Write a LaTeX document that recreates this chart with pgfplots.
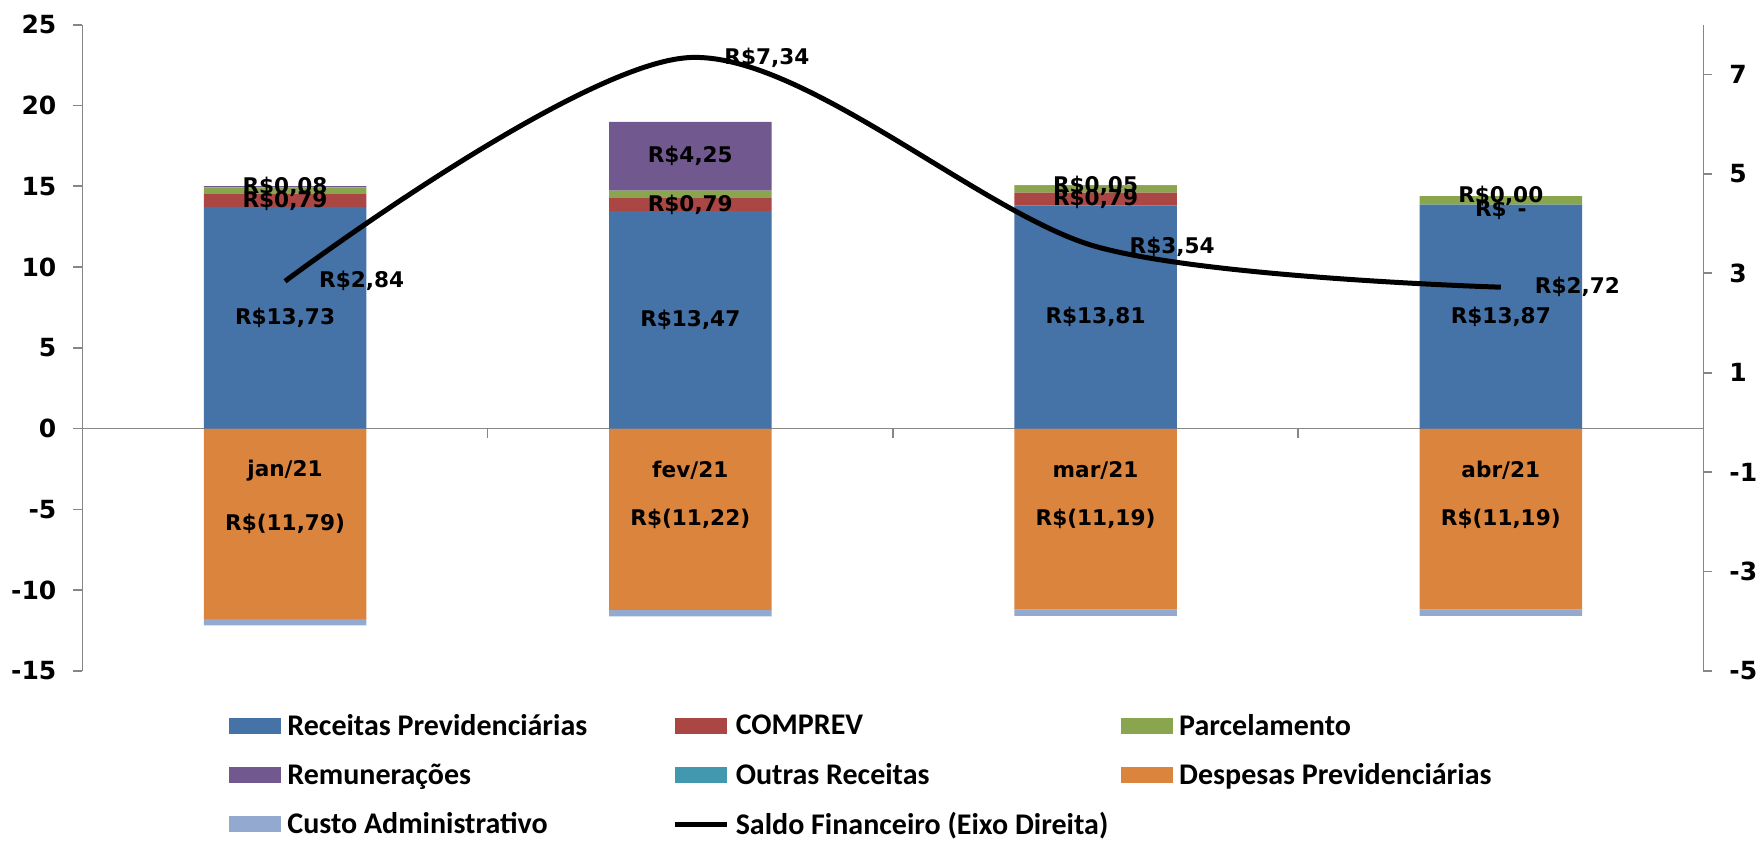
\documentclass[border=0pt]{standalone}
\usepackage{fontspec}
\setmainfont{DejaVu Sans}
\newfontfamily\carlito{Carlito}
\usepackage{pgfplots}
\usepackage{pgfplotstable}
\pgfplotsset{compat=1.18}
\definecolor{cRec}{HTML}{4572A7}
\definecolor{cComp}{HTML}{AA4643}
\definecolor{cParc}{HTML}{89A54E}
\definecolor{cRem}{HTML}{71588F}
\definecolor{cOut}{HTML}{4198AF}
\definecolor{cDesp}{HTML}{DB843D}
\definecolor{cCusto}{HTML}{93A9CF}
\definecolor{axgray}{HTML}{868686}
\pgfplotsset{
  sqlegend/.style={legend image code/.code={\fill[##1] (0pt,-4pt) rectangle (26pt,4pt);}},
  linelegend/.style={legend image code/.code={\draw[##1] (0pt,0pt) -- (26pt,0pt);}},
}
\pgfplotstableread{
x rec comp parc rem out desp custo
0 13.73 0.79 0.41 0.08 0 -11.79 -0.39
1 13.47 0.79 0.47 4.25 0 -11.22 -0.40
2 13.81 0.79 0.41 0.05 0 -11.19 -0.40
3 13.87 0.00 0.52 0.00 0 -11.19 -0.40
}\bars
\pgfplotstableread{
x y label
0 2.84 R\$2,84
1 7.34 R\$7,34
2 3.54 R\$3,54
3 2.72 R\$2,72
}\saldo
\pgfplotstableread{
x y label
0 6.865 R\$13,73
1 6.735 R\$13,47
2 6.905 R\$13,81
3 6.935 R\$13,87
0 14.125 R\$0,79
1 13.865 R\$0,79
2 14.205 R\$0,79
3 13.55 R\$\enspace-
0 14.97 R\$0,08
1 16.855 R\$4,25
2 15.035 R\$0,05
3 14.39 R\$0,00
0 -5.895 R\$(11,79)
1 -5.61 R\$(11,22)
2 -5.595 R\$(11,19)
3 -5.595 R\$(11,19)
0 -2.6 jan/21
1 -2.6 fev/21
2 -2.6 mar/21
3 -2.6 abr/21
}\labels
\newcommand\lbfont{\bfseries\fontsize{10.8}{12}\selectfont}
\newcommand\tkfont{\bfseries\fontsize{12.5}{14}\selectfont}
\begin{document}
\begin{tikzpicture}
\path[use as bounding box] (-41.2pt,-85.5pt) rectangle (838.3pt,335.5pt);
\begin{axis}[
  at={(0,0)}, anchor=south west,
  width=810.5pt, height=323.15pt, scale only axis,
  xmin=-0.5, xmax=3.5, ymin=-15, ymax=25,
  ybar stacked, stack negative=separate, bar width=81.25pt,
  axis y line*=left, axis x line*=middle,
  hide obscured x ticks=false, hide obscured y ticks=false,
  xtick={0.5,1.5,2.5}, xticklabels={},
  ytick={-15,-10,...,25},
  tick align=outside, major tick length=4.5pt,
  axis line style={axgray, line width=0.8pt},
  tick style={axgray, line width=0.8pt},
  /pgf/number format/assume math mode=true,
  yticklabel style={font=\tkfont, xshift=-5pt},
  legend columns=3, legend cell align=left,
  legend style={at={(rel axis cs:0,0)}, anchor=north west, xshift=73.3pt, yshift=-15.25pt,
    draw=none, fill=none, inner sep=0pt, row sep=0pt, column sep=0pt,
    font=\carlito\bfseries\fontsize{15}{17}\selectfont,
    nodes={inner sep=0pt, minimum height=24.5pt}},
]
\addplot[fill=cRec, draw=none, sqlegend] table[x=x,y=rec] {\bars};
\addlegendentry{\makebox[195.7pt][l]{\hspace*{3pt}Receitas Previdenciárias}}
\addplot[fill=cComp, draw=none, sqlegend] table[x=x,y=comp] {\bars};
\addlegendentry{\makebox[195.7pt][l]{\hspace*{3pt}COMPREV}}
\addplot[fill=cParc, draw=none, sqlegend] table[x=x,y=parc] {\bars};
\addlegendentry{\makebox[195.7pt][l]{\hspace*{3pt}Parcelamento}}
\addplot[fill=cRem, draw=none, sqlegend] table[x=x,y=rem] {\bars};
\addlegendentry{\makebox[195.7pt][l]{\hspace*{3pt}Remunerações}}
\addplot[fill=cOut, draw=none, sqlegend] table[x=x,y=out] {\bars};
\addlegendentry{\makebox[195.7pt][l]{\hspace*{3pt}Outras Receitas}}
\addplot[fill=cDesp, draw=none, sqlegend] table[x=x,y=desp] {\bars};
\addlegendentry{\makebox[195.7pt][l]{\hspace*{3pt}Despesas Previdenciárias}}
\addplot[fill=cCusto, draw=none, sqlegend] table[x=x,y=custo] {\bars};
\addlegendentry{\makebox[195.7pt][l]{\hspace*{3pt}Custo Administrativo}}
\addlegendimage{black, line width=2.5pt, linelegend}
\addlegendentry{\makebox[195.7pt][l]{\hspace*{3pt}Saldo Financeiro (Eixo Direita)}}
\end{axis}
\begin{axis}[
  at={(0,0)}, anchor=south west,
  width=810.5pt, height=323.15pt, scale only axis,
  xmin=-0.5, xmax=3.5, ymin=-5, ymax=8,
  axis y line*=right, axis x line=none,
  ytick={-5,-3,...,7},
  tick align=outside, major tick length=4.5pt,
  axis line style={axgray, line width=0.8pt},
  tick style={axgray, line width=0.8pt},
  /pgf/number format/assume math mode=true,
  yticklabel style={font=\tkfont, xshift=5pt},
]
\addplot[black, line width=2.5pt, smooth, nodes near coords, point meta=explicit symbolic,
  every node near coord/.append style={anchor=west, xshift=12.5pt, font=\lbfont, text=black}]
  table[x=x,y=y,meta=label] {\saldo};
\end{axis}
\begin{axis}[
  at={(0,0)}, anchor=south west,
  width=810.5pt, height=323.15pt, scale only axis,
  xmin=-0.5, xmax=3.5, ymin=-15, ymax=25,
  axis lines=none,
]
\addplot[draw=none, nodes near coords, point meta=explicit symbolic,
  every node near coord/.append style={anchor=center, font=\lbfont, text=black}]
  table[x=x,y=y,meta=label] {\labels};
\end{axis}
\end{tikzpicture}
\end{document}
